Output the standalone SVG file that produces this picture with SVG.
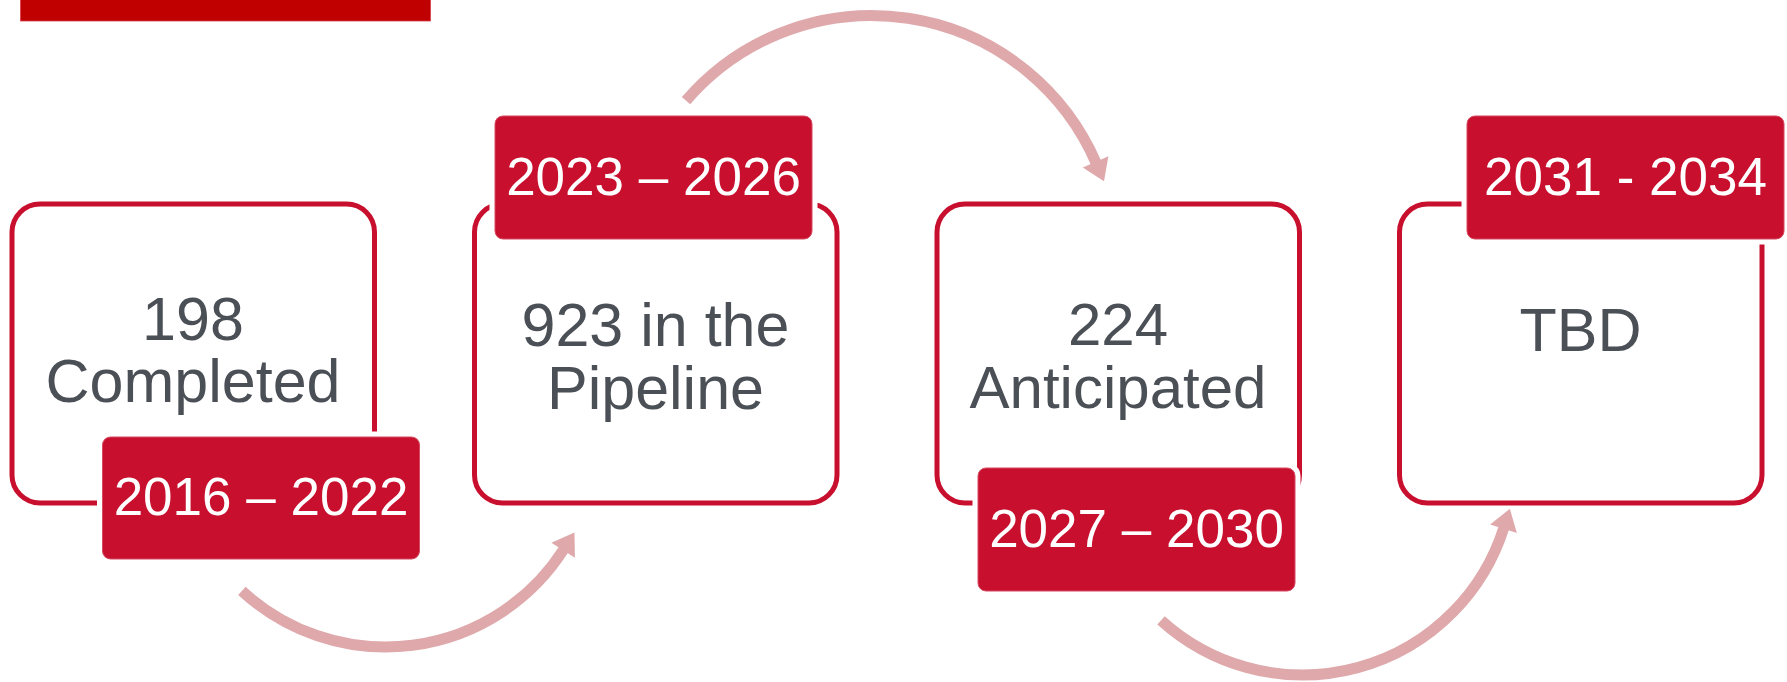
<svg xmlns="http://www.w3.org/2000/svg" width="1787" height="682" viewBox="0 0 1787 682">
<defs>
<style>
.box{fill:#FFFFFF;stroke:#C8102E;stroke-width:5}
.halo{fill:#FFFFFF;stroke:#FFFFFF;stroke-width:11}
.lab{fill:#C8102E;stroke:#D64A60;stroke-width:1}
.lt{font-family:"Liberation Sans",Arial,sans-serif;font-size:53px;fill:#FFFFFF;text-anchor:middle}
.mt{font-family:"Liberation Sans",Arial,sans-serif;font-size:61px;fill:#4B4F56;text-anchor:middle}
.arc{fill:none;stroke:#DFA9AC;stroke-width:11}
</style>
<marker id="ah" markerUnits="userSpaceOnUse" viewBox="-2 -15 24 30" markerWidth="24" markerHeight="30" refX="0" refY="0" orient="auto">
<path d="M-1,-14 L20,0 L-1,14 Z" fill="#DFA9AC"/>
</marker>
</defs>
<rect width="1787" height="682" fill="#FFFFFF"/>
<rect id="title" x="20.5" y="-2" width="410" height="23" fill="#C00000" stroke="#D8404A" stroke-width="0.8"/>

<g id="node1">
<rect class="box" x="12" y="204" width="362.5" height="299" rx="28"/>
<text class="mt" x="193" y="340">198</text>
<text class="mt" x="193" y="402">Completed</text>
<rect class="halo" x="102.5" y="437" width="317" height="122" rx="8"/>
<rect class="lab" x="102.5" y="437" width="317" height="122" rx="8"/>
<text class="lt" x="261" y="515">2016 – 2022</text>
</g>

<g id="node2">
<rect class="box" x="474.5" y="204" width="362.5" height="299" rx="28"/>
<text class="mt" x="655.5" y="346">923 in the</text>
<text class="mt" x="655.5" y="409">Pipeline</text>
<rect class="halo" x="495" y="116" width="317" height="123" rx="8"/>
<rect class="lab" x="495" y="116" width="317" height="123" rx="8"/>
<text class="lt" x="653.5" y="194.5">2023 – 2026</text>
</g>

<g id="node3">
<rect class="box" x="937" y="204" width="362.5" height="299" rx="28"/>
<text class="mt" x="1118" y="345" style="font-size:60px">224</text>
<text class="mt" x="1118" y="408" style="font-size:60px">Anticipated</text>
<rect class="halo" x="978" y="468" width="317" height="123" rx="8"/>
<rect class="lab" x="978" y="468" width="317" height="123" rx="8"/>
<text class="lt" x="1136.5" y="546.5">2027 – 2030</text>
</g>

<g id="node4">
<rect class="box" x="1399.5" y="204" width="362.5" height="299" rx="28"/>
<text class="mt" x="1580.5" y="351">TBD</text>
<rect class="halo" x="1467" y="116" width="317" height="123" rx="8"/>
<rect class="lab" x="1467" y="116" width="317" height="123" rx="8"/>
<text class="lt" x="1625.5" y="195">2031 - 2034</text>
</g>

<g id="connectors">
<path class="arc" d="M241.9,590.9 A211.6,211.6 0 0 0 563.7,549.4" marker-end="url(#ah)"/>
<path class="arc" d="M686,100.7 A244.7,244.7 0 0 1 1096,162.8" marker-end="url(#ah)"/>
<path class="arc" d="M1161,620.3 A211,211 0 0 0 1503.8,527.8" marker-end="url(#ah)"/>
</g>
</svg>
